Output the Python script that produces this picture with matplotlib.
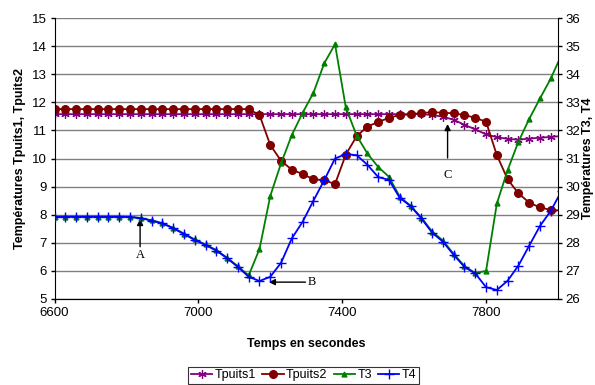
import numpy as np
import matplotlib
matplotlib.use("Agg")
import matplotlib.pyplot as plt

plt.rcParams['font.family'] = ['Liberation Sans', 'DejaVu Sans']

# sample times (s), one reading every 30 s
temps = np.arange(6600, 8011, 30)

tpuits1 = [11.58] * 35 + [11.55, 11.49, 11.38, 11.20, 11.04, 10.86, 10.76,
                          10.70, 10.67, 10.71, 10.74, 10.77, 10.80]

tpuits2 = [11.76] * 19 + [11.55, 10.48, 9.92, 9.60, 9.45, 9.26, 9.23, 9.09,
                          10.14, 10.79, 11.14, 11.30, 11.45, 11.55, 11.57, 11.62,
                          11.65, 11.63, 11.61, 11.55, 11.45, 11.31, 10.12, 9.26,
                          8.76, 8.43, 8.26, 8.17, 8.15]

t4 = [28.93] * 7 + [28.92, 28.88, 28.79, 28.69, 28.52, 28.31, 28.10, 27.92,
                    27.72, 27.45, 27.14, 26.79, 26.64, 26.79, 27.29, 28.16,
                    28.75, 29.50, 30.23, 31.00, 31.16, 31.12, 30.78, 30.34,
                    30.24, 29.60, 29.31, 28.87, 28.36, 28.04, 27.57, 27.14,
                    26.91, 26.42, 26.32, 26.65, 27.19, 27.90, 28.60, 29.14, 29.85]

t3 = [28.93] * 7 + [28.92, 28.88, 28.80, 28.70, 28.53, 28.33, 28.12, 27.94,
                    27.74, 27.47, 27.16, 26.84, 27.78, 29.67, 30.83, 31.84,
                    32.63, 33.34, 34.39, 35.07, 32.82, 31.82, 31.18, 30.70,
                    30.35, 29.64, 29.32, 28.90, 28.40, 28.08, 27.60, 27.17,
                    26.92, 27.00, 29.40, 30.59, 31.60, 32.41, 33.14, 33.85, 34.70]

fig = plt.figure(figsize=(5.95, 3.85), dpi=100)
ax = fig.add_axes([0.0916, 0.2234, 0.8462, 0.7296])
ax2 = ax.twinx()

l1, = ax.plot(temps, tpuits1, color='#800080', lw=1.3, marker=(6, 2, 0),
              ms=6, mew=0.9, label='Tpuits1')
l2, = ax.plot(temps, tpuits2, color='#800000', lw=1.3, marker='o',
              ms=5.5, label='Tpuits2')
l3, = ax2.plot(temps, t3, color='#008000', lw=1.3, marker='^',
               ms=3.5, label='T3')
l4, = ax2.plot(temps, t4, color='#0000FF', lw=1.3, marker='+',
               ms=7, mew=1.0, label='T4')

ax.set_xlim(6600, 8000)
ax.set_ylim(5, 15)
ax2.set_ylim(26, 36)
ax.set_xticks([6600, 7000, 7400, 7800])
ax.set_yticks(range(5, 16))
ax2.set_yticks(range(26, 37))
ax.yaxis.grid(True, color='#808080', lw=1.0)
ax.set_axisbelow(True)

for a in (ax, ax2):
    a.spines['top'].set_visible(False)
    a.tick_params(direction='out', length=3, width=1, labelsize=9.5, colors='black', pad=2.5)
ax2.spines['left'].set_visible(False)
ax.spines['right'].set_visible(False)

ax.set_xlabel('Temps en secondes', fontsize=9, fontweight='bold', labelpad=14)
ax.set_ylabel('Températures Tpuits1, Tpuits2', fontsize=9, fontweight='bold', labelpad=4)
ax2.set_ylabel('Températures T3, T4', fontsize=9, fontweight='bold', labelpad=1)

serif = dict(family=['Liberation Serif', 'DejaVu Serif'], fontsize=9)
arrow = dict(arrowstyle='-|>', color='black', lw=1, mutation_scale=9, shrinkA=0, shrinkB=0)
ax.annotate('', xy=(6838, 7.85), xytext=(6838, 6.86), arrowprops=arrow)
ax.text(6838, 6.57, 'A', ha='center', va='center', **serif)
ax.annotate('', xy=(7196, 5.6), xytext=(7298, 5.6), arrowprops=arrow)
ax.text(7305, 5.6, 'B', ha='left', va='center', **serif)
ax.annotate('', xy=(7693, 11.23), xytext=(7693, 10.02), arrowprops=arrow)
ax.text(7693, 9.41, 'C', ha='center', va='center', **serif)

leg = fig.legend(handles=[l1, l2, l3, l4], loc='lower center', ncol=4,
                 bbox_to_anchor=(0.5105, 0.0), fontsize=9, frameon=True,
                 fancybox=False, edgecolor='black', handlelength=1.7,
                 handletextpad=0.2, columnspacing=0.5, borderpad=0.2,
                 borderaxespad=0.1)
leg.get_frame().set_linewidth(0.8)

fig.savefig('out.png', dpi=100)
